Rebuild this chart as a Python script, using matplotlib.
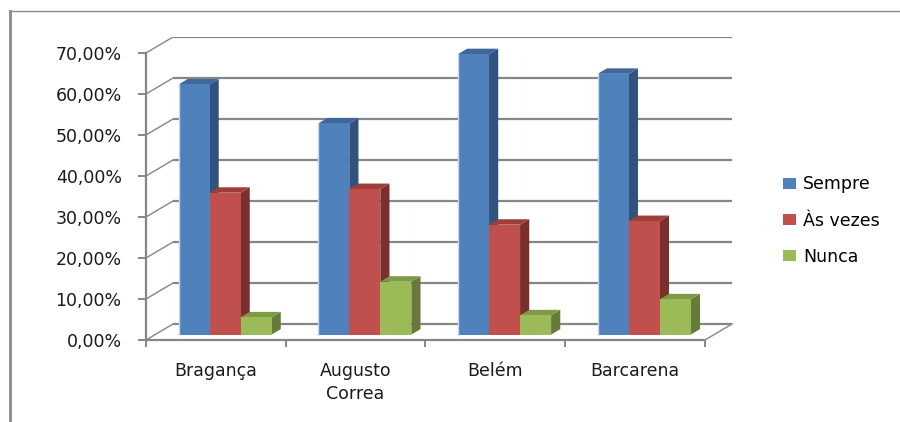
import matplotlib
matplotlib.use("Agg")
import matplotlib.pyplot as plt
from matplotlib.patches import Polygon, Patch
from matplotlib.lines import Line2D

# --- data -------------------------------------------------------------
categories = ["Bragança", "Augusto\nCorrea", "Belém", "Barcarena"]
series_names = ["Sempre", "Às vezes", "Nunca"]
sempre = [61.0, 51.5, 68.4, 63.6]
as_vezes = [34.6, 35.5, 26.8, 27.7]
nunca = [4.2, 12.9, 4.7, 8.6]
y_ticks = [0, 10, 20, 30, 40, 50, 60, 70]

series_values = [sempre, as_vezes, nunca]
front_colors = ["#4F81BD", "#C0504D", "#9BBB59"]
top_colors = ["#3E679B", "#9E3E3B", "#7E9A47"]
side_colors = ["#31527E", "#7A2F2D", "#667B39"]
grid_color = "#868686"

# --- figure / axes geometry (pixels) -----------------------------------
W, H = 900, 422
fig = plt.figure(figsize=(W / 100, H / 100), dpi=100)

px_cat = 139.75          # pixels per category on the front plane
px_pct = 4.1             # pixels per percentage point
x_max, y_max = 4.2, 74.0
ax_left_px, ax_base_px = 146, 340
ax = fig.add_axes([ax_left_px / W, (H - ax_base_px) / H,
                   x_max * px_cat / W, y_max * px_pct / H])
ax.set_xlim(0, x_max)
ax.set_ylim(0, y_max)
ax.patch.set_visible(False)

# oblique depth of the 3-D box (data units)
depth_x = 27 / px_cat
depth_y = 16 / px_pct
n_cat = len(categories)

# back wall gridlines and left-wall diagonals
for v in y_ticks:
    ax.plot([depth_x, n_cat + depth_x], [v + depth_y, v + depth_y],
            color=grid_color, lw=1.6, solid_capstyle="butt", zorder=1)
    ax.plot([0, depth_x], [v, v + depth_y], color=grid_color, lw=1.0, zorder=1)
# right edge of the floor
ax.plot([n_cat, n_cat + depth_x], [0, depth_y], color=grid_color, lw=1.0, zorder=1)

# --- 3-D bars ------------------------------------------------------------
front_depth = 0.34       # fraction of depth where the bar fronts sit
bar_depth = 0.34         # bar thickness as fraction of depth
bar_w = 0.222
n_ser = len(series_values)
ox, oy = front_depth * depth_x, front_depth * depth_y
bx, by = bar_depth * depth_x, bar_depth * depth_y

for i in range(n_cat):
    group_left = i + 0.5 - n_ser * bar_w / 2 + ox
    for j, vals in enumerate(series_values):
        x0 = group_left + j * bar_w
        x1 = x0 + bar_w
        y0 = oy
        y1 = oy + vals[i]
        z = 3 + i * 10 + j
        side = Polygon([(x1, y0), (x1 + bx, y0 + by), (x1 + bx, y1 + by), (x1, y1)],
                       closed=True, facecolor=side_colors[j], edgecolor="none", zorder=z)
        top = Polygon([(x0, y1), (x0 + bx, y1 + by), (x1 + bx, y1 + by), (x1, y1)],
                      closed=True, facecolor=top_colors[j], edgecolor="none", zorder=z)
        front = Polygon([(x0, y0), (x1, y0), (x1, y1), (x0, y1)],
                        closed=True, facecolor=front_colors[j], edgecolor="none", zorder=z)
        for p in (side, top, front):
            p.set_clip_on(False)
            ax.add_patch(p)
        if j == 0:
            ax.plot([x0, x0], [y0, y1], color="#C9D7EA", lw=1.0, zorder=z,
                    clip_on=False)

# --- axes, ticks, labels -------------------------------------------------
for s in ("top", "right"):
    ax.spines[s].set_visible(False)
for s in ("left", "bottom"):
    ax.spines[s].set_color(grid_color)
    ax.spines[s].set_linewidth(1.6)
    ax.spines[s].set_zorder(50)
ax.spines["left"].set_bounds(0, 70)
ax.spines["bottom"].set_bounds(0, n_cat)

label_font = {"family": "DejaVu Sans", "size": 12.5, "color": "#1a1a1a"}

ax.set_yticks(y_ticks)
ax.set_yticklabels([f"{v:.2f}%".replace(".", ",") for v in y_ticks], fontdict=label_font)
ax.tick_params(axis="y", direction="out", length=5.5, width=1.4, color=grid_color, pad=12)

ax.set_xticks(range(n_cat + 1))
ax.set_xticklabels([])
ax.set_xticks([i + 0.5 for i in range(n_cat)], minor=True)
ax.set_xticklabels(categories, minor=True, fontdict=label_font, linespacing=1.35)
ax.tick_params(axis="x", which="major", direction="out", length=5, width=1.4, color=grid_color)
ax.tick_params(axis="x", which="minor", length=0, pad=16)

# --- legend --------------------------------------------------------------
handles = [Patch(facecolor=c, edgecolor="none") for c in front_colors]
fig.legend(handles, series_names, loc="center left",
           bbox_to_anchor=(783 / W, (H - 220.5) / H), frameon=False,
           prop={"family": "DejaVu Sans", "size": 12.5},
           handlelength=0.75, handleheight=0.6, handletextpad=0.4,
           labelspacing=1.05, borderpad=0, borderaxespad=0)

# --- outer chart border (top and left edges) ------------------------------
fig.add_artist(Line2D([10 / W, 10 / W], [0, (H - 11) / H], color="#8a8a8a", lw=2.0))
fig.add_artist(Line2D([10 / W, 1], [(H - 11) / H, (H - 11) / H], color="#8a8a8a", lw=1.0))

fig.savefig("out.png", dpi=100)
